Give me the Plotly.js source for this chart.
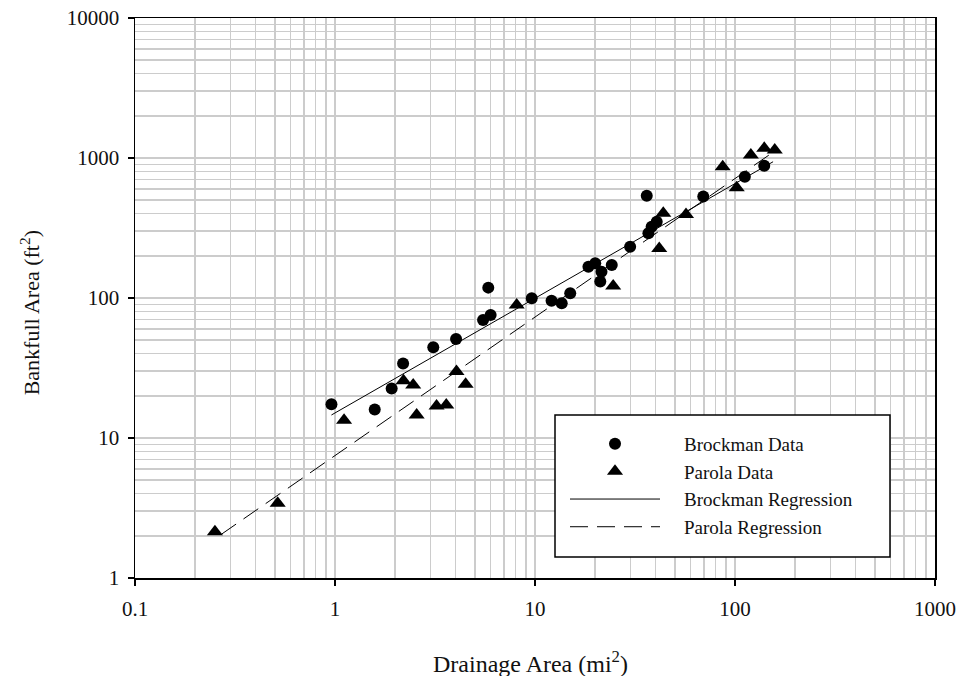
<!DOCTYPE html>
<html>
<head>
<meta charset="utf-8">
<script src="https://cdn.plot.ly/plotly-3.0.1.min.js"></script>
<style>html,body{margin:0;padding:0;background:#fff;}#chart{width:959px;height:676px;}</style>
</head>
<body>
<div id="chart"></div>
<script>
// Brockman data
const brockmanX = [0.96, 1.58, 1.92, 2.19, 3.10, 4.03, 5.5, 6.0, 5.84, 9.63, 12.1, 13.6, 15.0, 18.5, 20.0, 21.5, 21.2, 24.2, 29.9, 36.2, 36.9, 38.3, 40.6, 69.4, 112, 140];
const brockmanY = [17.4, 16.0, 22.6, 34.1, 44.5, 50.9, 69.7, 75.7, 118.6, 99.6, 95.7, 91.6, 108, 167, 177, 154, 131, 172, 232, 538, 290, 323, 351, 530, 735, 880];
// Parola data
const parolaX = [0.251, 0.517, 1.11, 2.2, 2.46, 2.56, 3.22, 3.6, 4.05, 4.5, 8.1, 24.6, 41.8, 43.8, 56.9, 86.8, 102, 120, 140, 158];
const parolaY = [2.14, 3.42, 13.4, 25.6, 23.9, 14.6, 16.9, 17.2, 29.8, 24.2, 89, 122, 226, 403, 395, 867, 614, 1050, 1172, 1141];
// Regression line endpoints
const brockmanRegX = [0.96, 155];
const brockmanRegY = [14.6, 940];
const parolaRegX = [0.27, 155];
const parolaRegY = [2.05, 1100];
// Tick labels
const xTickVals = [0.1, 1, 10, 100, 1000];
const xTickText = ["0.1", "1", "10", "100", "1000"];
const yTickVals = [1, 10, 100, 1000, 10000];
const yTickText = ["1", "10", "100", "1000", "10000"];
// Texts
const xTitle = "Drainage Area (mi<sup>2</sup>)";
const yTitle = "Bankfull Area (ft<sup>2</sup>)";
const legendNames = ["Brockman Data", "Parola Data", "Brockman Regression", "Parola Regression"];

const serif = "Liberation Serif, Times New Roman, serif";
const pad = "\u00a0\u00a0\u00a0\u00a0";

const traces = [
  {x: brockmanX, y: brockmanY, mode: "markers", type: "scatter", name: pad + legendNames[0], legendgroup: "a",
   marker: {symbol: "circle", size: 12, color: "#000"}},
  {x: parolaX, y: parolaY, mode: "markers", type: "scatter", name: pad + legendNames[1], legendgroup: "b",
   marker: {symbol: "triangle-up", size: 14, color: "#000"}},
  {x: brockmanRegX, y: brockmanRegY, mode: "lines", type: "scatter", name: pad + legendNames[2], legendgroup: "c",
   line: {color: "#000", width: 1}},
  {x: parolaRegX, y: parolaRegY, mode: "lines", type: "scatter", name: pad + legendNames[3], legendgroup: "d",
   line: {color: "#000", width: 1, dash: "18px,9px"}}
];

const gridColor = "#cccccc";
const tickFont = {family: serif, size: 21, color: "#111"};
const layout = {
  width: 959, height: 676,
  margin: {l: 135, r: 24, t: 18, b: 98, pad: 0},
  paper_bgcolor: "#fff", plot_bgcolor: "#fff",
  font: {family: serif, color: "#000"},
  showlegend: true,
  xaxis: {
    type: "log", range: [-1, 3],
    tickmode: "array", tickvals: xTickVals, ticktext: xTickText,
    showline: true, linecolor: "#000", linewidth: 1.5, mirror: true,
    ticks: "outside", ticklen: 6, tickcolor: "#000", tickwidth: 1.5,
    ticklabelstandoff: 5,
    showgrid: true, gridcolor: gridColor, gridwidth: 1.5,
    minor: {dtick: "D1", showgrid: true, gridcolor: gridColor, gridwidth: 1.5, ticks: ""},
    zeroline: false,
    tickfont: tickFont
  },
  yaxis: {
    type: "log", range: [0, 4],
    tickmode: "array", tickvals: yTickVals, ticktext: yTickText,
    showline: true, linecolor: "#000", linewidth: 1.5, mirror: true,
    ticks: "outside", ticklen: 6, tickcolor: "#000", tickwidth: 1.5,
    ticklabelstandoff: 4,
    showgrid: true, gridcolor: gridColor, gridwidth: 1.5,
    minor: {dtick: "D1", showgrid: true, gridcolor: gridColor, gridwidth: 1.5, ticks: ""},
    zeroline: false,
    tickfont: tickFont
  },
  annotations: [
    {text: yTitle, xref: "paper", yref: "paper", x: -0.131, y: 0.473, textangle: -90,
     showarrow: false, xanchor: "center", yanchor: "middle",
     font: {family: serif, size: 22, color: "#111"}},
    {text: xTitle, xref: "paper", yref: "paper", x: 0.494, y: -0.15,
     showarrow: false, xanchor: "center", yanchor: "middle",
     font: {family: serif, size: 24, color: "#111"}}
  ],
  shapes: [
    {type: "rect", xref: "paper", yref: "paper", x0: 0.525, x1: 0.94375, y0: 0.0375, y1: 0.291,
     line: {color: "#000", width: 1.5}, fillcolor: "#fff", layer: "above"}
  ],
  legend: {
    x: 0.5375, y: 0.2736, xanchor: "left", yanchor: "top",
    bgcolor: "rgba(0,0,0,0)", borderwidth: 0,
    itemwidth: 90, tracegroupgap: 0, traceorder: "grouped",
    font: {family: serif, size: 19, color: "#111"}
  }
};

Plotly.newPlot("chart", traces, layout, {displayModeBar: false, staticPlot: true});
</script>
</body>
</html>
